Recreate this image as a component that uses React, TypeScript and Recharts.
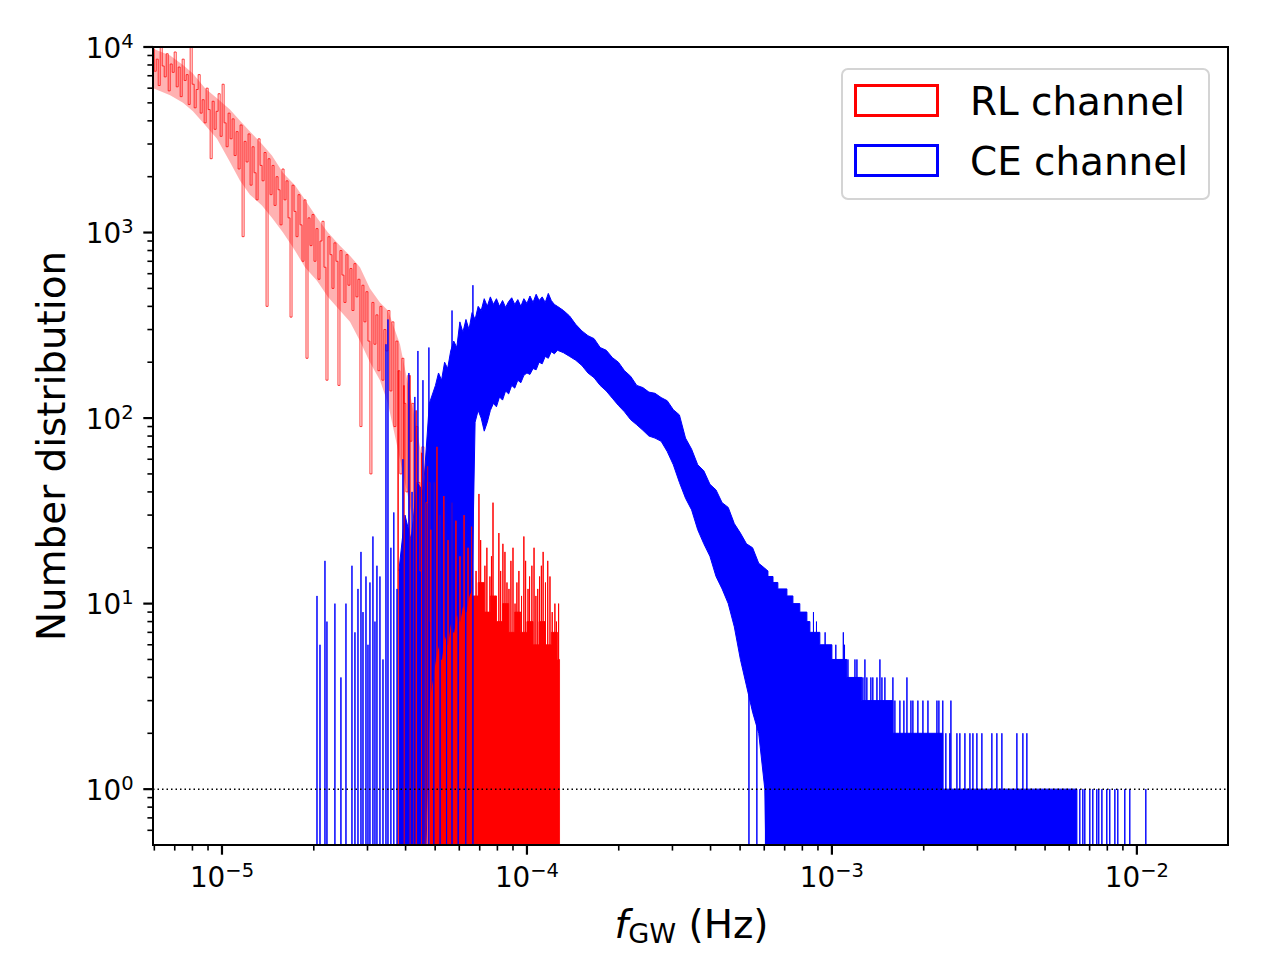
import { ComposedChart, Line, Area, XAxis, YAxis, ReferenceLine, Legend } from 'recharts';

const FONT = '"DejaVu Sans", "Liberation Sans", sans-serif';
const RED = '#ff0000';
const BLUE = '#0000ff';

const X_DOMAIN: [number, number] = [5.94e-6, 1.99e-2];
const Y_DOMAIN: [number, number] = [0.5, 1e4];
// empty bins have no place on a log axis: park them below the floor, the clip hides them
const EMPTY = 0.1;

// RL channel, noisy low-frequency part: counts in log-spaced bins between two edges
const RL_THIN_FIRST = 5.95e-6;
const RL_THIN_LAST = 4.84e-5;
const rlThinCounts = [
  9800, 7400, 8600, 6200, 10800, 7900, 6900, 9200, 5800, 8100,
  7300, 9400, 6100, 7800, 5400, 8600, 6600, 7100, 4900, 10500,
  6300, 4700, 5900, 7100, 4400, 5200, 3900, 6000, 4600, 2500,
  5100, 3600, 4500, 5600, 3300, 6300, 3900, 2900, 4400, 3200,
  4100, 2600, 3500, 2200, 3800, 950, 3100, 2400, 3400, 1800,
  2900, 2100, 1500, 3200, 2300, 1900, 2700, 400, 2500, 1600,
  2300, 1400, 2000, 1700, 1100, 2200, 1500, 1900, 1200, 350,
  1800, 1300, 950, 1600, 1100, 700, 1500, 210, 1200, 850,
  1250, 700, 1050, 560, 900, 1150, 650, 160, 950, 760,
  500, 880, 700, 150, 800, 590, 420, 760, 520, 640,
  380, 680, 450, 560, 90, 520, 330, 480, 260, 50,
  420, 250, 360, 180, 400, 160, 300, 230, 380, 140,
  330, 90, 260, 180, 50, 210, 120, 40, 170, 75,
  120, 0, 90, 45, 15, 70, 0, 35, 45, 8,
];

// RL channel, the same stretch seen as a band: where most of those bins sit
const rlThinBandF = [
  5.95e-6, 6.76e-6, 7.45e-6, 8.03e-6, 8.8e-6, 9.63e-6, 1.062e-5, 1.146e-5, 1.235e-5, 1.352e-5,
  1.458e-5, 1.585e-5, 1.735e-5, 1.871e-5, 2.049e-5, 2.226e-5, 2.437e-5, 2.628e-5, 2.835e-5, 3.056e-5,
  3.296e-5, 3.502e-5, 3.834e-5, 4.198e-5, 4.63e-5,
];
const rlThinBandLow = [
  6000, 5500, 5000, 4500, 3800, 3200, 2400, 1900, 1600, 1400,
  1200, 1000, 800, 650, 550, 450, 380, 330, 260, 200,
  160, 120, 60, 30, 12,
];
const rlThinBandHigh = [
  9800, 9000, 8000, 7200, 6000, 5300, 4600, 4000, 3500, 3000,
  2600, 2100, 1800, 1500, 1200, 1000, 850, 750, 650, 500,
  420, 380, 250, 120, 50,
];

// RL channel, dense part: solid body top
const rlBodyF = [
  4.786e-5, 5.012e-5, 5.248e-5, 5.495e-5, 5.754e-5, 6.026e-5, 6.31e-5, 6.607e-5,
  6.918e-5, 7.244e-5, 7.586e-5, 7.943e-5, 8.318e-5, 8.71e-5, 9.12e-5, 9.55e-5,
  1.0e-4, 1.047e-4, 1.096e-4, 1.148e-4, 1.202e-4, 1.259e-4, 1.279e-4,
];
const rlBodyN = [22, 18, 24, 16, 20, 14, 15, 11, 13, 9, 11, 8, 10, 7, 9, 7, 8, 6, 8, 6, 7, 5, 0];

// RL channel, single tall bins
const rlSpikeF = [
  3.78e-5, 3.95e-5, 4.13e-5, 4.33e-5, 4.52e-5, 4.74e-5, 4.84e-5, 4.95e-5, 5.07e-5, 5.19e-5,
  5.34e-5, 5.51e-5, 5.68e-5, 5.85e-5, 6.03e-5, 6.22e-5, 6.41e-5, 6.6e-5, 6.81e-5, 6.96e-5,
  7.05e-5, 7.17e-5, 7.28e-5, 7.39e-5, 7.56e-5, 7.65e-5, 7.74e-5, 7.91e-5, 8.09e-5, 8.2e-5,
  8.34e-5, 8.47e-5, 8.6e-5, 8.73e-5, 8.86e-5, 9.0e-5, 9.14e-5, 9.27e-5, 9.41e-5, 9.6e-5,
  9.77e-5, 9.9e-5, 1.008e-4, 1.02e-4, 1.038e-4, 1.055e-4, 1.07e-4, 1.085e-4, 1.1e-4, 1.115e-4,
  1.13e-4, 1.15e-4, 1.17e-4, 1.19e-4, 1.21e-4, 1.235e-4, 1.25e-4, 1.27e-4,
];
const rlSpikeN = [
  180, 150, 170, 110, 65, 55, 25, 45, 70, 30,
  38, 22, 35, 28, 18, 30, 20, 26, 15, 39,
  22, 12, 16, 20, 14, 18, 35, 11, 24, 15,
  21, 19, 13, 12, 17, 20, 10, 13, 15, 11,
  23, 17, 12, 14, 16, 20, 11, 12, 14, 16,
  19, 13, 17, 14, 9, 10, 8, 10,
];

// CE channel, dense band: lower and upper edge
const ceBandF = [
  3.802e-5, 3.981e-5, 4.169e-5, 4.365e-5, 4.571e-5, 4.786e-5, 5.012e-5, 5.129e-5, 5.248e-5, 5.37e-5,
  5.495e-5, 5.623e-5, 5.754e-5, 5.888e-5, 6.026e-5, 6.166e-5, 6.31e-5, 6.457e-5, 6.607e-5, 6.761e-5,
  6.918e-5, 7.079e-5, 7.244e-5, 7.413e-5, 7.586e-5, 7.762e-5, 7.943e-5, 8.128e-5, 8.318e-5, 8.511e-5,
  8.71e-5, 8.913e-5, 9.12e-5, 9.333e-5, 9.55e-5, 9.772e-5, 1.0e-4, 1.023e-4, 1.047e-4, 1.072e-4,
  1.096e-4, 1.122e-4, 1.148e-4, 1.175e-4, 1.202e-4, 1.23e-4, 1.259e-4, 1.318e-4, 1.38e-4, 1.445e-4,
  1.514e-4, 1.585e-4, 1.66e-4, 1.738e-4, 1.82e-4, 1.905e-4, 1.995e-4, 2.089e-4, 2.188e-4, 2.291e-4,
  2.399e-4, 2.512e-4, 2.63e-4, 2.754e-4, 2.884e-4, 3.02e-4, 3.162e-4, 3.311e-4, 3.467e-4, 3.631e-4,
  3.802e-4, 3.981e-4, 4.169e-4, 4.365e-4, 4.571e-4, 4.786e-4, 5.012e-4, 5.248e-4, 5.495e-4, 5.754e-4,
  6.026e-4, 6.166e-4,
];
const ceBandLow = [
  0, 0, 0, 0, 0, 3, 5, 6, 5, 7,
  6, 8, 7, 9, 8, 10, 9, 11, 12, 95,
  110, 100, 85, 95, 110, 120, 115, 130, 125, 140,
  135, 150, 145, 160, 155, 170, 175, 172, 185, 182,
  200, 196, 215, 210, 228, 222, 232, 225, 215, 205,
  192, 175, 165, 150, 140, 128, 117, 108, 98, 92,
  86, 80, 78, 75, 66, 56, 45, 37, 32, 25,
  21, 18, 14, 12, 10, 7.5, 5, 3.6, 2.6, 2,
  1, 0,
];
const ceBandHigh = [
  15, 30, 22, 45, 40, 120, 150, 175, 160, 200,
  185, 230, 260, 240, 330, 290, 340, 300, 370, 340,
  400, 380, 440, 400, 450, 410, 440, 400, 430, 395,
  425, 445, 410, 435, 400, 440, 415, 455, 420, 465,
  430, 450, 420, 470, 430, 410, 400, 380, 355, 320,
  295, 278, 268, 240, 232, 212, 200, 180, 168, 150,
  146, 138, 136, 129, 124, 111, 104, 78, 68, 56,
  52, 44, 41, 35, 33, 27, 24, 21, 20, 16.5,
  15.5, 15,
];

// CE channel, high-frequency tail: staircase of low counts
const ceTailF = [
  6.03e-4, 6.17e-4, 6.41e-4, 6.65e-4, 7.12e-4, 7.45e-4, 7.85e-4, 8.28e-4,
  8.47e-4, 9.13e-4, 1.0e-3, 1.12e-3, 1.254e-3, 1.585e-3, 2.31e-3, 6.36e-3,
];
const ceTailN = [15, 14, 13, 12, 11, 10, 9, 8, 7, 6, 5, 4, 3, 2, 1, 0];

// CE channel, single bins (sparse onset and tail stragglers)
const ceSpikeF = [
  2.049e-5, 2.096e-5, 2.176e-5, 2.209e-5, 2.346e-5, 2.455e-5, 2.55e-5, 2.668e-5, 2.729e-5, 2.792e-5,
  2.856e-5, 2.9e-5, 2.966e-5, 3.011e-5, 3.056e-5, 3.126e-5, 3.174e-5, 3.222e-5, 3.296e-5, 3.372e-5,
  3.449e-5, 3.502e-5, 3.58e-5, 3.66e-5, 3.75e-5, 3.92e-5, 4.1e-5, 4.2e-5, 4.29e-5, 4.39e-5,
  4.56e-5, 4.77e-5, 4.95e-5, 5.19e-5, 5.45e-5, 5.68e-5, 5.95e-5, 6.3e-5, 6.65e-5,
  5.345e-4, 5.675e-4, 8.7e-4, 8.9e-4, 9.5e-4, 1.03e-3, 1.09e-3, 1.1e-3,
  1.129e-3, 1.19e-3, 1.208e-3, 1.264e-3, 1.283e-3, 1.302e-3, 1.342e-3, 1.362e-3, 1.405e-3, 1.437e-3,
  1.459e-3, 1.492e-3, 1.585e-3, 1.609e-3, 1.671e-3, 1.722e-3, 1.762e-3, 1.816e-3, 1.843e-3, 1.914e-3,
  1.988e-3, 2.065e-3, 2.21e-3, 2.243e-3, 2.31e-3, 2.364e-3, 2.436e-3, 2.456e-3, 2.57e-3, 2.628e-3,
  2.73e-3, 2.835e-3, 2.9e-3, 2.988e-3, 3.103e-3, 3.346e-3, 3.475e-3, 3.609e-3, 4.042e-3, 4.229e-3,
  4.358e-3, 6.5e-3, 6.65e-3, 6.75e-3, 7.01e-3, 7.17e-3, 7.39e-3, 7.5e-3, 7.68e-3, 7.97e-3,
  8.15e-3, 8.47e-3, 8.66e-3, 9.13e-3, 9.48e-3, 1.07e-2,
];
const ceSpikeN = [
  11, 6, 17, 8, 10, 4, 10, 16, 7, 12,
  19, 9, 14, 6, 13, 23, 8, 16, 14, 5,
  250, 340, 20, 31, 12, 60, 175, 40, 130, 230,
  160, 240, 60, 120, 80, 380, 90, 150, 520,
  10, 7, 9, 8, 7, 6, 7, 6,
  5, 5, 5, 4, 5, 4, 4, 4, 4, 5,
  4, 4, 4, 3, 3, 3, 4, 3, 3, 3,
  3, 3, 3, 3, 3, 2, 2, 3, 2, 2,
  2, 2, 2, 2, 2, 2, 2, 2, 2, 2,
  2, 1, 1, 1, 1, 1, 1, 1, 1, 1,
  1, 1, 1, 1, 1, 1,
];

const xMajorTicks = [1e-5, 1e-4, 1e-3, 1e-2];
const yMajorTicks = [1, 10, 100, 1000, 10000];
const minorMantissas = [2, 3, 4, 5, 6, 7, 8, 9];

const legendItems = [
  { label: 'RL channel', color: RED },
  { label: 'CE channel', color: BLUE },
];

const orEmpty = (n: number) => (n > 0 ? n : EMPTY);

const rlThinRows = rlThinCounts.map((n, i) => ({
  f: RL_THIN_FIRST * Math.pow(RL_THIN_LAST / RL_THIN_FIRST, i / (rlThinCounts.length - 1)),
  n: orEmpty(n),
}));
const rlThinBandRows = rlThinBandF.map((f, i) => ({ f, range: [rlThinBandLow[i], rlThinBandHigh[i]] }));
const rlBodyRows = rlBodyF.map((f, i) => ({ f, range: [EMPTY, orEmpty(rlBodyN[i])] }));
const ceBandRows = ceBandF.map((f, i) => ({ f, range: [orEmpty(ceBandLow[i]), ceBandHigh[i]] }));
const ceTailRows = ceTailF.map((f, i) => ({ f, range: [EMPTY, orEmpty(ceTailN[i])] }));

// each lone bin becomes a vertical stroke up from the empty level
const spikeRows = (fs: number[], ns: number[]) =>
  fs.flatMap((f, i) => [{ f, n: EMPTY }, { f, n: ns[i] }, { f, n: EMPTY }]);
const rlSpikeRows = spikeRows(rlSpikeF, rlSpikeN);
const ceSpikeRows = spikeRows(ceSpikeF, ceSpikeN);

const withMinors = (majors: number[], lowest: number, domain: [number, number]) =>
  [...majors, ...[lowest, ...majors].flatMap((d) => minorMantissas.map((m) => m * d))]
    .filter((v) => v > domain[0] && v <= domain[1])
    .sort((a, b) => a - b);
const xTicks = withMinors(xMajorTicks, 1e-6, X_DOMAIN);
const yTicks = withMinors(yMajorTicks, 0.1, Y_DOMAIN);

const isMajor = (v: number) => {
  const e = Math.log10(v);
  return Math.abs(e - Math.round(e)) < 1e-6;
};
const expText = (v: number) => {
  const e = Math.round(Math.log10(v));
  return e < 0 ? `\u2212${-e}` : `${e}`;
};

function XTick(props: any) {
  const { x, y, payload } = props;
  const major = isMajor(payload.value);
  return (
    <g>
      <line x1={x} x2={x} y1={y} y2={y + (major ? 9.7 : 5.6)} stroke="#000" strokeWidth={major ? 2.2 : 1.6} />
      {major && (
        <text x={x} y={y + 42} textAnchor="middle" fontFamily={FONT} fontSize={27.8} fill="#000">
          10<tspan dy={-10} fontSize={19.5}>{expText(payload.value)}</tspan>
        </text>
      )}
    </g>
  );
}

function YTick(props: any) {
  const { x, y, payload } = props;
  const major = isMajor(payload.value);
  return (
    <g>
      <line x1={x} x2={x - (major ? 9.7 : 5.6)} y1={y} y2={y} stroke="#000" strokeWidth={major ? 2.2 : 1.6} />
      {major && (
        <text x={x - 19.4} y={y + 10.5} textAnchor="end" fontFamily={FONT} fontSize={27.8} fill="#000">
          10<tspan dy={-10} fontSize={19.5}>{expText(payload.value)}</tspan>
        </text>
      )}
    </g>
  );
}

function XTitle(props: any) {
  const { viewBox } = props;
  const cx = viewBox.x + viewBox.width / 2;
  return (
    <text x={cx + 1} y={viewBox.y + 93} textAnchor="middle" fontFamily={FONT} fontSize={38.9} fill="#000" style={{ whiteSpace: 'pre' }}>
      <tspan fontStyle="italic">f</tspan>
      <tspan fontSize={27.2} dy={5}>GW</tspan>
      <tspan dy={-5}>{' (Hz)'}</tspan>
    </text>
  );
}

function YTitle(props: any) {
  const { viewBox } = props;
  const cy = viewBox.y + viewBox.height / 2;
  return (
    <text x={65} y={cy} transform={`rotate(-90, 65, ${cy})`} textAnchor="middle" fontFamily={FONT} fontSize={38.9} fill="#000">
      Number distribution
    </text>
  );
}

function ChannelLegend() {
  return (
    <svg width={369} height={132} style={{ display: 'block' }}>
      <rect x={1} y={1} width={367} height={130} rx={6} fill="#fff" fillOpacity={0.8} stroke="#d4d4d4" strokeWidth={2} />
      {legendItems.map((it, i) => (
        <g key={it.label}>
          <rect x={14.5} y={17.5 + i * 60} width={82} height={30} fill="none" stroke={it.color} strokeWidth={3} />
          <text x={129} y={47 + i * 60} fontFamily={FONT} fontSize={38.9} fill="#000">
            {it.label}
          </text>
        </g>
      ))}
    </svg>
  );
}

export default function App() {
  return (
    <div style={{ position: 'absolute', left: 0, top: 0, width: 1280, height: 960, background: '#fff' }}>
      <ComposedChart width={1280} height={960} margin={{ top: 47, right: 52, bottom: 0, left: 0 }}>
        <XAxis
          dataKey="f"
          type="number"
          scale="log"
          domain={X_DOMAIN}
          allowDataOverflow
          ticks={xTicks}
          interval={0}
          tickSize={0}
          tickMargin={0}
          tickLine={false}
          axisLine={false}
          height={115}
          tick={(p: any) => <XTick {...p} />}
          label={(p: any) => <XTitle {...p} />}
        />
        <YAxis
          type="number"
          scale="log"
          domain={Y_DOMAIN}
          allowDataOverflow
          ticks={yTicks}
          interval={0}
          tickSize={0}
          tickMargin={0}
          tickLine={false}
          axisLine={false}
          width={153}
          tick={(p: any) => <YTick {...p} />}
          label={(p: any) => <YTitle {...p} />}
        />
        <Legend
          content={() => <ChannelLegend />}
          layout="vertical"
          align="center"
          verticalAlign="middle"
          wrapperStyle={{ left: 841, top: 68, width: 369, height: 132 }}
        />

        <Area data={rlThinBandRows} dataKey="range" type="linear" stroke="none" fill={RED} fillOpacity={0.3} dot={false} activeDot={false} isAnimationActive={false} />
        <Line data={rlThinRows} dataKey="n" type="step" stroke={RED} strokeWidth={0.9} strokeOpacity={0.85} dot={false} activeDot={false} isAnimationActive={false} />
        <Area data={rlBodyRows} dataKey="range" type="stepAfter" stroke={RED} strokeWidth={0.8} fill={RED} fillOpacity={1} dot={false} activeDot={false} isAnimationActive={false} />
        <Area data={ceBandRows} dataKey="range" type="linear" stroke={BLUE} strokeWidth={1} fill={BLUE} fillOpacity={1} dot={false} activeDot={false} isAnimationActive={false} />
        <Area data={ceTailRows} dataKey="range" type="stepAfter" stroke={BLUE} strokeWidth={1} fill={BLUE} fillOpacity={1} dot={false} activeDot={false} isAnimationActive={false} />
        <Line data={rlSpikeRows} dataKey="n" type="linear" stroke={RED} strokeWidth={1} dot={false} activeDot={false} isAnimationActive={false} />
        <Line data={ceSpikeRows} dataKey="n" type="linear" stroke={BLUE} strokeWidth={1} dot={false} activeDot={false} isAnimationActive={false} />

        <ReferenceLine y={1} stroke="#000" strokeWidth={1.5} strokeDasharray="1.5 3" />
      </ComposedChart>
      <div
        style={{
          position: 'absolute',
          left: 152,
          top: 46,
          width: 1077,
          height: 800,
          border: '2px solid #000',
          boxSizing: 'border-box',
          pointerEvents: 'none',
        }}
      />
    </div>
  );
}
